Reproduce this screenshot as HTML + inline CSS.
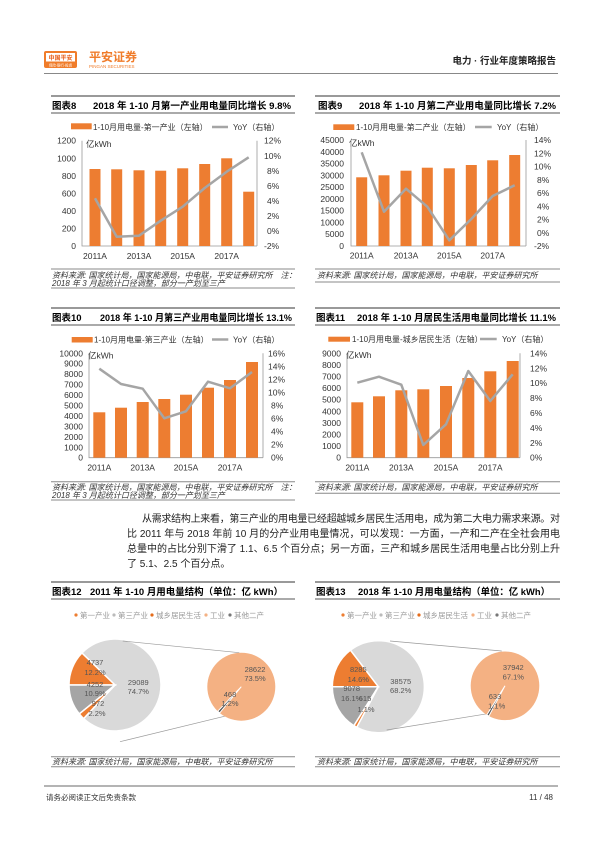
<!DOCTYPE html>
<html><head><meta charset="utf-8"><style>
html,body{margin:0;padding:0;background:#fff;}
svg{display:block;font-family:"Liberation Sans","Noto Sans CJK SC",sans-serif;}
.t{font-size:8.5px;fill:#333;}
.ti{font-size:9.5px;font-weight:bold;fill:#000;}
.src{font-size:8px;fill:#333;font-style:italic;}
.lg{font-size:8px;fill:#333;}
.pl{font-size:7.5px;fill:#555;text-anchor:middle;}
.ax{stroke:#999;stroke-width:0.8;fill:none;}
.bar{fill:#ed7d31;}
.yoy{stroke:#a5a5a5;stroke-width:2.5;fill:none;stroke-linejoin:round;}
.p{font-size:10px;fill:#222;}
</style></head><body>
<svg width="600" height="848" viewBox="0 0 600 848" xmlns="http://www.w3.org/2000/svg">
<!-- header -->
<rect x="44" y="51" width="33" height="17" rx="2" fill="#f07c2a"/>
<rect x="46" y="53" width="29" height="8.5" fill="#fff"/>
<text x="60.5" y="60" font-size="6px" fill="#e8601c" text-anchor="middle" font-weight="bold">中国平安</text>
<text x="60.5" y="66.5" font-size="3.5px" fill="#fff" text-anchor="middle">保险·银行·投资</text>
<text x="89" y="61" font-size="12px" font-weight="bold" fill="#f07c2a">平安证券</text>
<text x="89" y="68" font-size="4.5px" fill="#f07c2a">PINGAN SECURITIES</text>
<text x="556" y="64" font-size="9.5px" fill="#222" text-anchor="end" font-weight="bold">电力 · 行业年度策略报告</text>
<line x1="44" y1="73.5" x2="558" y2="73.5" stroke="#888" stroke-width="1"/>

<!-- panel frames -->
<g stroke="#999" stroke-width="2">
<line x1="51" y1="96" x2="295" y2="96"/><line x1="315" y1="96" x2="560" y2="96"/>
<line x1="51" y1="308" x2="295" y2="308"/><line x1="315" y1="308" x2="560" y2="308"/>
<line x1="51" y1="582" x2="295" y2="582"/><line x1="315" y1="582" x2="560" y2="582"/>
</g>
<g stroke="#777" stroke-width="1.2">
<line x1="51" y1="113" x2="295" y2="113"/><line x1="315" y1="113" x2="560" y2="113"/>
<line x1="51" y1="325" x2="295" y2="325"/><line x1="315" y1="325" x2="560" y2="325"/>
<line x1="51" y1="599" x2="295" y2="599"/><line x1="315" y1="599" x2="560" y2="599"/>
</g>
<g stroke="#888" stroke-width="1">
<line x1="51" y1="269" x2="295" y2="269"/><line x1="51" y1="288" x2="295" y2="288"/>
<line x1="315" y1="269" x2="560" y2="269"/><line x1="315" y1="282" x2="560" y2="282"/>
<line x1="51" y1="481.7" x2="295" y2="481.7"/><line x1="51" y1="500" x2="295" y2="500"/>
<line x1="315" y1="481.7" x2="560" y2="481.7"/><line x1="315" y1="493.3" x2="560" y2="493.3"/>
<line x1="51" y1="756.7" x2="295" y2="756.7"/><line x1="51" y1="766.7" x2="295" y2="766.7"/>
<line x1="315" y1="756.7" x2="560" y2="756.7"/><line x1="315" y1="766.7" x2="560" y2="766.7"/>
</g>

<!-- titles -->
<text x="52" y="109" class="ti">图表8</text><text x="93" y="109" class="ti" textLength="198" lengthAdjust="spacingAndGlyphs">2018 年 1-10 月第一产业用电量同比增长 9.8%</text>
<text x="318" y="109" class="ti">图表9</text><text x="359" y="109" class="ti" textLength="197" lengthAdjust="spacingAndGlyphs">2018 年 1-10 月第二产业用电量同比增长 7.2%</text>
<text x="52" y="321" class="ti">图表10</text><text x="100" y="321" class="ti" textLength="192" lengthAdjust="spacingAndGlyphs">2018 年 1-10 月第三产业用电量同比增长 13.1%</text>
<text x="316" y="321" class="ti">图表11</text><text x="357" y="321" class="ti" textLength="199" lengthAdjust="spacingAndGlyphs">2018 年 1-10 月居民生活用电量同比增长 11.1%</text>
<text x="52" y="595" class="ti">图表12</text><text x="90" y="595" class="ti" textLength="193" lengthAdjust="spacingAndGlyphs">2011 年 1-10 月用电量结构（单位：亿 kWh）</text>
<text x="316" y="595" class="ti">图表13</text><text x="358" y="595" class="ti" textLength="192" lengthAdjust="spacingAndGlyphs">2018 年 1-10 月用电量结构（单位：亿 kWh）</text>

<!-- sources -->
<text x="52" y="278" class="src">资料来源: 国家统计局，国家能源局，中电联，平安证券研究所　注：</text>
<text x="52" y="286" class="src">2018 年 3 月起统计口径调整，部分一产划至三产</text>
<text x="317" y="278" class="src">资料来源: 国家统计局，国家能源局，中电联，平安证券研究所</text>
<text x="52" y="490" class="src">资料来源: 国家统计局，国家能源局，中电联，平安证券研究所　注：</text>
<text x="52" y="498" class="src">2018 年 3 月起统计口径调整，部分一产划至三产</text>
<text x="317" y="490" class="src">资料来源: 国家统计局，国家能源局，中电联，平安证券研究所</text>
<text x="52" y="764.5" class="src">资料来源: 国家统计局，国家能源局，中电联，平安证券研究所</text>
<text x="317" y="764.5" class="src">资料来源: 国家统计局，国家能源局，中电联，平安证券研究所</text>

<!-- CHART 8 -->
<rect x="71" y="123.3" width="20.7" height="6" class="bar"/>
<text x="93" y="130" class="lg">1-10月用电量-第一产业（左轴）</text>
<line x1="212" y1="127" x2="228" y2="127" stroke="#a5a5a5" stroke-width="2.5"/>
<text x="233" y="130" class="lg">YoY（右轴）</text>
<text x="86" y="147" class="t">亿kWh</text>
<g class="t" text-anchor="end">
<text x="76" y="249">0</text><text x="76" y="231.5">200</text><text x="76" y="214">400</text><text x="76" y="196.4">600</text><text x="76" y="178.9">800</text><text x="76" y="161.3">1000</text><text x="76" y="143.7">1200</text></g>
<g class="t">
<text x="264" y="249">-2%</text><text x="267" y="234">0%</text><text x="267" y="219">2%</text><text x="267" y="204">4%</text><text x="267" y="189">6%</text><text x="267" y="174">8%</text><text x="264" y="159">10%</text><text x="264" y="143.7">12%</text></g>
<path class="ax" d="M82 140.7V246H257M257 140.7V246"/>
<g class="bar">
<rect x="89.5" y="169" width="11" height="77"/><rect x="111.2" y="169.3" width="11" height="76.7"/><rect x="133.5" y="170.3" width="11" height="75.7"/><rect x="155.2" y="170.7" width="11" height="75.3"/><rect x="177.2" y="168.3" width="11" height="77.7"/><rect x="199.2" y="164" width="11" height="82"/><rect x="221.2" y="158.3" width="11" height="87.7"/><rect x="243.2" y="191.7" width="11" height="54.3"/></g>
<polyline class="yoy" points="95,198.3 116.7,236.7 139,235.7 160.7,220.7 182.7,206.7 204.7,188 226.7,171.7 248.7,157.3"/>
<g class="t" text-anchor="middle"><text x="95" y="259">2011A</text><text x="139" y="259">2013A</text><text x="182.7" y="259">2015A</text><text x="226.7" y="259">2017A</text></g>

<!-- CHART 9 -->
<rect x="333.3" y="124.3" width="21" height="5.7" class="bar"/>
<text x="356" y="130" class="lg">1-10月用电量-第二产业（左轴）</text>
<line x1="475" y1="127" x2="491.7" y2="127" stroke="#a5a5a5" stroke-width="2.5"/>
<text x="497" y="130" class="lg">YoY（右轴）</text>
<text x="349" y="146" class="t">亿kWh</text>
<g class="t" text-anchor="end">
<text x="344" y="249">0</text><text x="344" y="237.2">5000</text><text x="344" y="225.4">10000</text><text x="344" y="213.7">15000</text><text x="344" y="201.9">20000</text><text x="344" y="190.1">25000</text><text x="344" y="178.3">30000</text><text x="344" y="166.5">35000</text><text x="344" y="154.8">40000</text><text x="344" y="143">45000</text></g>
<g class="t">
<text x="534" y="249">-2%</text><text x="537" y="235.75">0%</text><text x="537" y="222.5">2%</text><text x="537" y="209.25">4%</text><text x="537" y="196">6%</text><text x="537" y="182.75">8%</text><text x="534" y="169.5">10%</text><text x="534" y="156.25">12%</text><text x="534" y="143">14%</text></g>
<path class="ax" d="M351 140V246H526M526 140V246"/>
<g class="bar">
<rect x="356.2" y="177.3" width="11" height="68.7"/><rect x="378.5" y="175.3" width="11" height="70.7"/><rect x="400.5" y="170.7" width="11" height="75.3"/><rect x="421.8" y="167.7" width="11" height="78.3"/><rect x="443.8" y="168.3" width="11" height="77.7"/><rect x="465.8" y="165" width="11" height="81"/><rect x="487.2" y="160.3" width="11" height="85.7"/><rect x="509.2" y="155" width="11" height="91"/></g>
<polyline class="yoy" points="361.7,152.3 384,211.7 406,188.7 427.3,206.7 449.3,240.3 471.3,219 492.7,196 514.7,185.3"/>
<g class="t" text-anchor="middle"><text x="361.7" y="258.5">2011A</text><text x="406" y="258.5">2013A</text><text x="449.3" y="258.5">2015A</text><text x="492.7" y="258.5">2017A</text></g>

<!-- CHART 10 -->
<rect x="71.7" y="337" width="21" height="5.5" class="bar"/>
<text x="94" y="342.5" class="lg">1-10月用电量-第三产业（左轴）</text>
<line x1="212" y1="339.5" x2="228.3" y2="339.5" stroke="#a5a5a5" stroke-width="2.5"/>
<text x="233" y="342.5" class="lg">YoY（右轴）</text>
<text x="88" y="358.5" class="t">亿kWh</text>
<g class="t" text-anchor="end">
<text x="83" y="460.7">0</text><text x="83" y="450.3">1000</text><text x="83" y="439.8">2000</text><text x="83" y="429.4">3000</text><text x="83" y="418.9">4000</text><text x="83" y="408.5">5000</text><text x="83" y="398">6000</text><text x="83" y="387.6">7000</text><text x="83" y="377.2">8000</text><text x="83" y="366.7">9000</text><text x="83" y="356.3">10000</text></g>
<g class="t">
<text x="271" y="460.7">0%</text><text x="271" y="447.7">2%</text><text x="271" y="434.6">4%</text><text x="271" y="421.6">6%</text><text x="271" y="408.5">8%</text><text x="268" y="395.5">10%</text><text x="268" y="382.4">12%</text><text x="268" y="369.4">14%</text><text x="268" y="356.3">16%</text></g>
<path class="ax" d="M89 353.3V457.7H263M263 353.3V457.7"/>
<g class="bar">
<rect x="93.3" y="412.3" width="12" height="45.4"/><rect x="115" y="407.7" width="12" height="50"/><rect x="136.7" y="402" width="12" height="55.7"/><rect x="158.3" y="399" width="12" height="58.7"/><rect x="180" y="394.7" width="12" height="63"/><rect x="202" y="387.7" width="12" height="70"/><rect x="224" y="380" width="12" height="77.7"/><rect x="246" y="362" width="12" height="95.7"/></g>
<polyline class="yoy" points="99.3,368.7 121,384 142.7,388.7 164.3,418.3 186,411.3 208,381.7 230,388.3 252,372"/>
<g class="t" text-anchor="middle"><text x="99.3" y="470.5">2011A</text><text x="142.7" y="470.5">2013A</text><text x="186" y="470.5">2015A</text><text x="230" y="470.5">2017A</text></g>

<!-- CHART 11 -->
<rect x="328.3" y="336.7" width="21.7" height="5" class="bar"/>
<text x="352" y="342" class="lg">1-10月用电量-城乡居民生活（左轴）</text>
<line x1="480" y1="339" x2="496.7" y2="339" stroke="#a5a5a5" stroke-width="2.5"/>
<text x="502" y="342" class="lg">YoY（右轴）</text>
<text x="346" y="358" class="t">亿kWh</text>
<g class="t" text-anchor="end">
<text x="341" y="460.7">0</text><text x="341" y="449.1">1000</text><text x="341" y="437.5">2000</text><text x="341" y="425.9">3000</text><text x="341" y="414.3">4000</text><text x="341" y="402.7">5000</text><text x="341" y="391.1">6000</text><text x="341" y="379.5">7000</text><text x="341" y="367.9">8000</text><text x="341" y="356.3">9000</text></g>
<g class="t">
<text x="530" y="460.7">0%</text><text x="530" y="445.8">2%</text><text x="530" y="430.9">4%</text><text x="530" y="416">6%</text><text x="530" y="401.1">8%</text><text x="530" y="386.2">10%</text><text x="530" y="371.3">12%</text><text x="530" y="356.4">14%</text></g>
<path class="ax" d="M347 353.3V457.7H520M520 353.3V457.7"/>
<g class="bar">
<rect x="351.3" y="402.3" width="12" height="55.4"/><rect x="373" y="396.3" width="12" height="61.4"/><rect x="395.3" y="390.3" width="12" height="67.4"/><rect x="417.3" y="389.3" width="12" height="68.4"/><rect x="440" y="386" width="12" height="71.7"/><rect x="462.3" y="378" width="12" height="79.7"/><rect x="484.3" y="371.3" width="12" height="86.4"/><rect x="506.7" y="361" width="12" height="96.7"/></g>
<polyline class="yoy" points="357.3,382.7 379,376.7 401.3,384.7 423.3,445 446,424.3 468.3,371 490.3,401 512.7,374.3"/>
<g class="t" text-anchor="middle"><text x="357.3" y="470.5">2011A</text><text x="401.3" y="470.5">2013A</text><text x="446" y="470.5">2015A</text><text x="490.3" y="470.5">2017A</text></g>

<!-- paragraph -->
<text x="142" y="522" class="p" textLength="418" lengthAdjust="spacing">从需求结构上来看，第三产业的用电量已经超越城乡居民生活用电，成为第二大电力需求来源。对</text>
<text x="127" y="537" class="p" textLength="433" lengthAdjust="spacing">比 2011 年与 2018 年前 10 月的分产业用电量情况，可以发现：一方面，一产和二产在全社会用电</text>
<text x="127" y="552" class="p" textLength="433" lengthAdjust="spacing">总量中的占比分别下滑了 1.1、6.5 个百分点；另一方面，三产和城乡居民生活用电量占比分别上升</text>
<text x="127" y="567" class="p">了 5.1、2.5 个百分点。</text>

<!-- CHART 12 pies -->
<g font-size="7.5px" fill="#999">
<circle cx="76" cy="615" r="1.6" fill="#ed7d31"/><text x="80" y="618">第一产业</text>
<circle cx="114" cy="615" r="1.6" fill="#bbb"/><text x="118" y="618">第三产业</text>
<circle cx="152" cy="615" r="1.6" fill="#e46c1b"/><text x="156" y="618">城乡居民生活</text>
<circle cx="206" cy="615" r="1.6" fill="#f4b183"/><text x="210" y="618">工业</text>
<circle cx="230" cy="615" r="1.6" fill="#777"/><text x="234" y="618">其他二产</text>
</g>
<g stroke="#fff" stroke-width="1.5">
<path d="M115 685L81.9 653A46 46 0 1 1 83.6 718.6Z" fill="#d9d9d9"/>
<path d="M115 685L69 685A46 46 0 0 1 81.9 653Z" fill="#ed7d31"/>
<path d="M115 685L79.3 713.9A46 46 0 0 1 69 685Z" fill="#a5a5a5"/>
<path d="M115 685L83.6 718.6A46 46 0 0 1 79.3 713.9Z" fill="#ed7d31"/>
</g>
<g stroke="#999" stroke-width="0.7"><line x1="122.7" y1="641" x2="239.3" y2="652.7"/><line x1="120" y1="741.7" x2="236.7" y2="713.3"/></g>
<circle cx="241.3" cy="686.7" r="34" fill="#f4b183"/>
<path d="M241.3 686.7L219.7 712.9L217.8 711.2Z" fill="#555" stroke="#fff" stroke-width="1"/>
<g class="pl">
<text x="95" y="665">4737</text><text x="95" y="675">12.2%</text>
<text x="95" y="687">4252</text><text x="95" y="696">10.9%</text>
<text x="98" y="706">972</text><text x="97" y="716">2.2%</text>
<text x="138.3" y="685">29089</text><text x="138.3" y="694">74.7%</text>
<text x="255" y="672">28622</text><text x="255" y="681">73.5%</text>
<text x="230" y="697">468</text><text x="230" y="706">1.2%</text>
</g>

<!-- CHART 13 pies -->
<g font-size="7.5px" fill="#999">
<circle cx="343" cy="615" r="1.6" fill="#ed7d31"/><text x="347" y="618">第一产业</text>
<circle cx="381" cy="615" r="1.6" fill="#bbb"/><text x="385" y="618">第三产业</text>
<circle cx="419" cy="615" r="1.6" fill="#e46c1b"/><text x="423" y="618">城乡居民生活</text>
<circle cx="473" cy="615" r="1.6" fill="#f4b183"/><text x="477" y="618">工业</text>
<circle cx="497" cy="615" r="1.6" fill="#777"/><text x="501" y="618">其他二产</text>
</g>
<g stroke="#fff" stroke-width="1.5">
<path d="M378.3 686.7L350.4 650.2A46 46 0 1 1 356.7 727.3Z" fill="#d9d9d9"/>
<path d="M378.3 686.7L332.3 686.7A46 46 0 0 1 350.4 650.2Z" fill="#ed7d31"/>
<path d="M378.3 686.7L353.9 725.7A46 46 0 0 1 332.3 686.7Z" fill="#a5a5a5"/>
<path d="M378.3 686.7L356.7 727.3A46 46 0 0 1 353.9 725.7Z" fill="#ed7d31"/>
</g>
<g stroke="#999" stroke-width="0.7"><line x1="390" y1="641" x2="501.7" y2="651"/><line x1="386.7" y1="730" x2="490" y2="713.3"/></g>
<circle cx="505" cy="685.8" r="34.3" fill="#f4b183"/>
<path d="M505 685.8L488.9 716.1L486.8 714.9Z" fill="#555" stroke="#fff" stroke-width="1"/>
<g class="pl">
<text x="358.3" y="672">8285</text><text x="358.3" y="682">14.6%</text>
<text x="351.7" y="691">9078</text><text x="351.7" y="701">16.1%</text>
<text x="365" y="701">615</text><text x="366" y="712">1.1%</text>
<text x="400.7" y="684">38575</text><text x="400.7" y="693">68.2%</text>
<text x="513.3" y="670">37942</text><text x="513.3" y="679.5">67.1%</text>
<text x="495" y="699">633</text><text x="496.7" y="708.5">1.1%</text>
</g>

<!-- footer -->
<line x1="44" y1="786" x2="558" y2="786" stroke="#888" stroke-width="1.2"/>
<text x="46" y="800" font-size="7.5px" fill="#333">请务必阅读正文后免责条款</text>
<text x="553" y="800" font-size="8px" fill="#333" text-anchor="end">11 / 48</text>
</svg>
</body></html>
